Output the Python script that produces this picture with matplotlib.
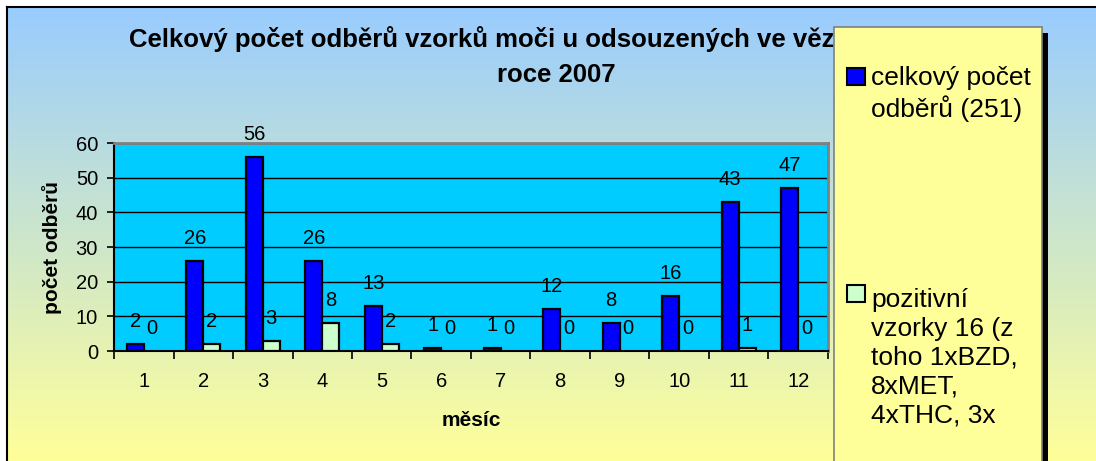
import matplotlib
matplotlib.use("Agg")
import matplotlib.pyplot as plt
from matplotlib.patches import Rectangle
from matplotlib.colors import LinearSegmentedColormap
import numpy as np

plt.rcParams['font.family'] = ['Liberation Sans', 'DejaVu Sans']

#----------------------------------------------------------------------------------------#
# Data

mesice = list(range(1, 13))
celkem = [2, 26, 56, 26, 13, 1, 1, 12, 8, 16, 43, 47]
pozitivni = [0, 2, 3, 8, 2, 0, 0, 0, 0, 0, 1, 0]
nadpis = ["Celkový počet odběrů vzorků moči u odsouzených ve věznici v", "roce 2007"]
legenda = ["celkový počet\nodběrů (251)",
           "pozitivní\nvzorky 16 (z\ntoho 1xBZD,\n8xMET,\n4xTHC, 3x"]
barvy = ["#0000FF", "#CCFFCC"]

W, H = 1096, 461
fig = plt.figure(figsize=(W / 100, H / 100), dpi=100)

def fx(px):  # pixely -> souradnice obrazku
    return px / W

def fy(py):
    return 1 - py / H

#----------------------------------------------------------------------------------------#
# Pozadi (prechod modra -> zluta)

bg = fig.add_axes([fx(7), 0, 1 - fx(7), fy(7)], zorder=-1)
cmap = LinearSegmentedColormap.from_list("bg", ["#99CCFF", "#FFFF99"])
bg.imshow(np.linspace(0, 1, 256).reshape(-1, 1), aspect='auto', cmap=cmap, extent=[0, 1, 0, 1])
bg.set_xticks([])
bg.set_yticks([])
for s in ['right', 'bottom']:
    bg.spines[s].set_visible(False)
for s in ['top', 'left']:
    bg.spines[s].set_linewidth(1.5)

#----------------------------------------------------------------------------------------#
# Graf

ax = fig.add_axes([fx(114), fy(351), fx(828 - 114), (351 - 143) / H])
ax.set_facecolor('#00CCFF')
x = np.arange(len(mesice))
w = 0.286
b1 = ax.bar(x - w / 2, celkem, w, color=barvy[0], edgecolor='black', linewidth=1.6, zorder=3)
lw2 = [1.6 if v > 0 else 0 for v in pozitivni]
b2 = ax.bar(x + w / 2, pozitivni, w, color=barvy[1], edgecolor='black', linewidth=lw2, zorder=3)

for bars, vals in ((b1, celkem), (b2, pozitivni)):
    for r, v in zip(bars, vals):
        ax.annotate(str(v), (r.get_x() + r.get_width() / 2, v), xytext=(0, 12.2),
                    textcoords='offset points', ha='center', va='baseline',
                    fontsize=14.5, annotation_clip=False, zorder=4)

ax.set_xlim(-0.5, 11.5)
ax.set_ylim(0, 60)
ax.set_xticks(np.arange(-0.5, 12, 1))
ax.set_xticklabels([])
ax.set_xticks(x, minor=True)
ax.set_xticklabels(mesice, minor=True, fontsize=14.5)
ax.tick_params(axis='x', which='major', length=6, width=1.2, direction='out')
ax.tick_params(axis='x', which='minor', length=0, pad=15)
ax.set_yticks(range(0, 61, 10))
ax.tick_params(axis='y', length=5, width=1.2, pad=6.5, labelsize=14.5)
ax.yaxis.grid(True, color='black', linewidth=1)
ax.set_axisbelow(True)
for s in ['left', 'bottom']:
    ax.spines[s].set_color('black')
    ax.spines[s].set_linewidth(1.5)
for s in ['top', 'right']:
    ax.spines[s].set_color('#808080')
    ax.spines[s].set_linewidth(2)

fig.text(fx(52), fy(247), "počet odběrů", rotation=90, ha='center', va='center',
         fontsize=15, fontweight='bold')
fig.text(fx(471), fy(426), "měsíc", ha='center', va='baseline', fontsize=15, fontweight='bold')

#----------------------------------------------------------------------------------------#
# Nadpis (castecne zakryty legendou)

fig.text(fx(129), fy(47), nadpis[0], ha='left', va='baseline', fontsize=18.5,
         fontweight='bold', zorder=1)
fig.text(fx(556), fy(82), nadpis[1], ha='center', va='baseline', fontsize=18.5,
         fontweight='bold', zorder=1)

#----------------------------------------------------------------------------------------#
# Legenda

fig.add_artist(Rectangle((fx(1042), -0.2), fx(6), fy(33) + 0.2, transform=fig.transFigure,
                         facecolor='black', edgecolor='none', zorder=2))
fig.add_artist(Rectangle((fx(834), -0.2), fx(1042 - 834), fy(27) + 0.2, transform=fig.transFigure,
                         facecolor='#FFFF99', edgecolor='#808080', linewidth=1.2, zorder=3))
# (horni okraj znacky, uctari posledniho radku)
for lab, barva, ytop, ylast in zip(legenda, barvy, [68, 285], [117, 422]):
    fig.add_artist(Rectangle((fx(847), fy(ytop + 17)), fx(18), 17 / H, transform=fig.transFigure,
                             facecolor=barva, edgecolor='black', linewidth=1.5, zorder=4))
    fig.text(fx(871), fy(ylast), lab, ha='left', va='baseline', fontsize=19,
             linespacing=1.25, zorder=5)

fig.savefig("out.png", dpi=100)
